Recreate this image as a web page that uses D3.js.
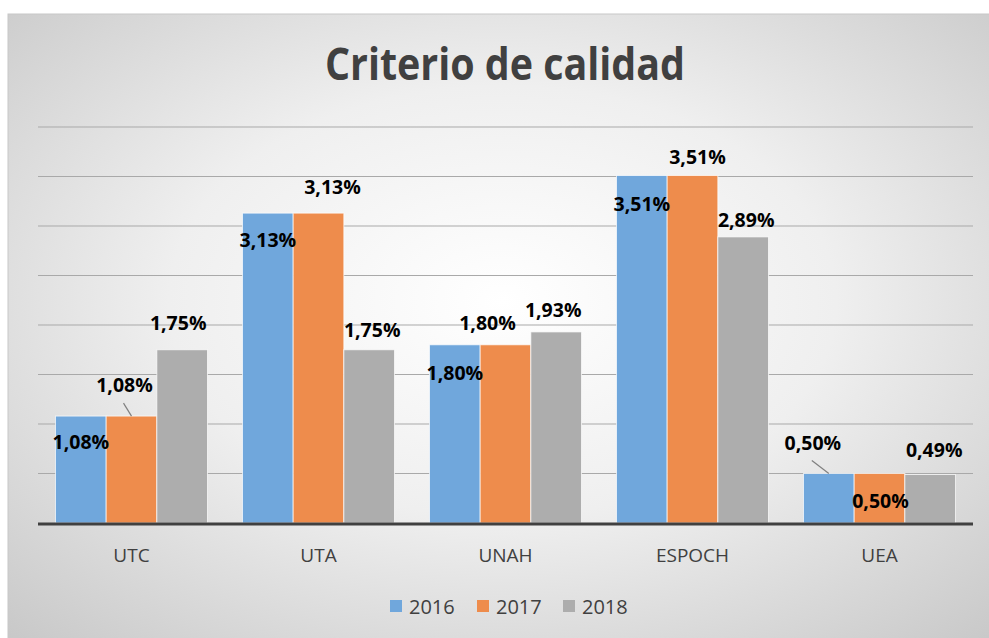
<!DOCTYPE html>
<html>
<head>
<meta charset="utf-8">
<script src="https://cdn.jsdelivr.net/npm/d3@7"></script>
<style>
  body { margin: 0; background: #fff; }
  svg { display: block; }
</style>
</head>
<body>
<svg id="chart" width="989" height="638"></svg>
<script>
// Data
const categories = ["UTC", "UTA", "UNAH", "ESPOCH", "UEA"];
const seriesNames = ["2016", "2017", "2018"];
const values2016 = [1.08, 3.13, 1.80, 3.51, 0.50];
const values2017 = [1.08, 3.13, 1.80, 3.51, 0.50];
const values2018 = [1.75, 1.75, 1.93, 2.89, 0.49];
const yTicks = [0, 0.5, 1, 1.5, 2, 2.5, 3, 3.5, 4];

const colors = ["#70a7dc", "#ee8c4c", "#adadad"];

// label nudges (px from bar top centre), like the hand placed labels
const nudges = [
    [[0, 33], [0, 34], [0, 35], [0, 35], [-16, -24, true]],
    [[-7, -24, true], [14, -19], [-18, -15], [5, -12], [1, 34]],
    [[-4, -20], [3, -13], [-3, -15], [3, -10], [4, -17]]
];

const svg = d3.select("#chart"),
    width = +svg.attr("width"),
    height = +svg.attr("height");

// background
const defs = svg.append("defs");
const grad = defs.append("radialGradient")
    .attr("id", "bg")
    .attr("cx", "50%").attr("cy", "45%").attr("r", "75%");
grad.append("stop").attr("offset", "0%").attr("stop-color", "#ffffff");
grad.append("stop").attr("offset", "45%").attr("stop-color", "#efefef");
grad.append("stop").attr("offset", "100%").attr("stop-color", "#c6c6c6");

svg.append("rect")
    .attr("x", 8).attr("y", 14)
    .attr("width", width).attr("height", height)
    .attr("fill", "url(#bg)")
    .attr("stroke", "#c8c8c8");

// Scales
const x = d3.scaleBand()
    .domain(categories)
    .range([38, 973])
    .paddingInner(0.187)
    .paddingOuter(0.0935);

const xs = d3.scaleBand()
    .domain(seriesNames)
    .range([0, x.bandwidth()]);

const y = d3.scaleLinear()
    .domain([0, 4])
    .range([523, 127]);

// grid
svg.append("g")
    .selectAll("line")
    .data(yTicks.slice(1))
    .join("line")
        .attr("x1", 38).attr("x2", 973)
        .attr("y1", d => y(d)).attr("y2", d => y(d))
        .attr("stroke", "#a9a9a9")
        .attr("stroke-width", 1);

// title
svg.append("text")
    .attr("x", 505).attr("y", 80)
    .attr("text-anchor", "middle")
    .attr("font-family", "Open Sans, sans-serif")
    .attr("font-weight", "bold")
    .attr("font-size", 44)
    .attr("fill", "#404040")
    .attr("textLength", 360)
    .attr("lengthAdjust", "spacingAndGlyphs")
    .text("Criterio de calidad");

// bars
const allSeries = [values2016, values2017, values2018];
const barData = [];
allSeries.forEach(function(vals, s) {
    vals.forEach(function(v, i) {
        barData.push({ cat: categories[i], ser: seriesNames[s], s: s, i: i, v: v });
    });
});

svg.append("g")
    .selectAll("rect")
    .data(barData)
    .join("rect")
        .attr("x", d => x(d.cat) + xs(d.ser))
        .attr("y", d => y(d.v))
        .attr("width", xs.bandwidth())
        .attr("height", d => y(0) - y(d.v))
        .attr("fill", d => colors[d.s])
        .attr("stroke", "rgba(255,255,255,0.7)")
        .attr("stroke-width", 1);

// baseline
svg.append("line")
    .attr("x1", 38).attr("x2", 973)
    .attr("y1", y(0) + 1).attr("y2", y(0) + 1)
    .attr("stroke", "#404040")
    .attr("stroke-width", 3);

// x axis labels
const xAxis = d3.axisBottom(x).tickSize(0).tickPadding(0);
const gx = svg.append("g")
    .attr("transform", "translate(0," + 562 + ")")
    .call(xAxis);
gx.select(".domain").remove();
gx.selectAll("text")
    .attr("font-family", "Open Sans, sans-serif")
    .attr("font-size", 19)
    .attr("fill", "#404040")
    .attr("dy", 0);

// data labels
const fmt = v => v.toFixed(2).replace(".", ",") + "%";
const lab = svg.append("g");
barData.forEach(function(d) {
    const n = nudges[d.s][d.i];
    const cx = x(d.cat) + xs(d.ser) + xs.bandwidth() / 2;
    const top = y(d.v);
    if (n[2]) {
        lab.append("line")
            .attr("x1", cx + n[0] - 1).attr("y1", top + n[1] + 11)
            .attr("x2", cx).attr("y2", top)
            .attr("stroke", "#7f7f7f")
            .attr("stroke-width", 1.2);
    }
    lab.append("text")
        .attr("x", cx + n[0])
        .attr("y", top + n[1])
        .attr("text-anchor", "middle")
        .attr("font-family", "Open Sans, sans-serif")
        .attr("font-weight", "bold")
        .attr("font-size", 19.5)
        .attr("fill", "#000")
        .text(fmt(d.v));
});

// legend
const legX = [390, 477, 563];
const leg = svg.append("g");
seriesNames.forEach(function(name, s) {
    leg.append("rect")
        .attr("x", legX[s]).attr("y", 600)
        .attr("width", 12).attr("height", 12)
        .attr("fill", colors[s]);
    leg.append("text")
        .attr("x", legX[s] + 19).attr("y", 614)
        .attr("font-family", "Open Sans, sans-serif")
        .attr("font-size", 20)
        .attr("fill", "#404040")
        .text(name);
});
</script>
</body>
</html>
